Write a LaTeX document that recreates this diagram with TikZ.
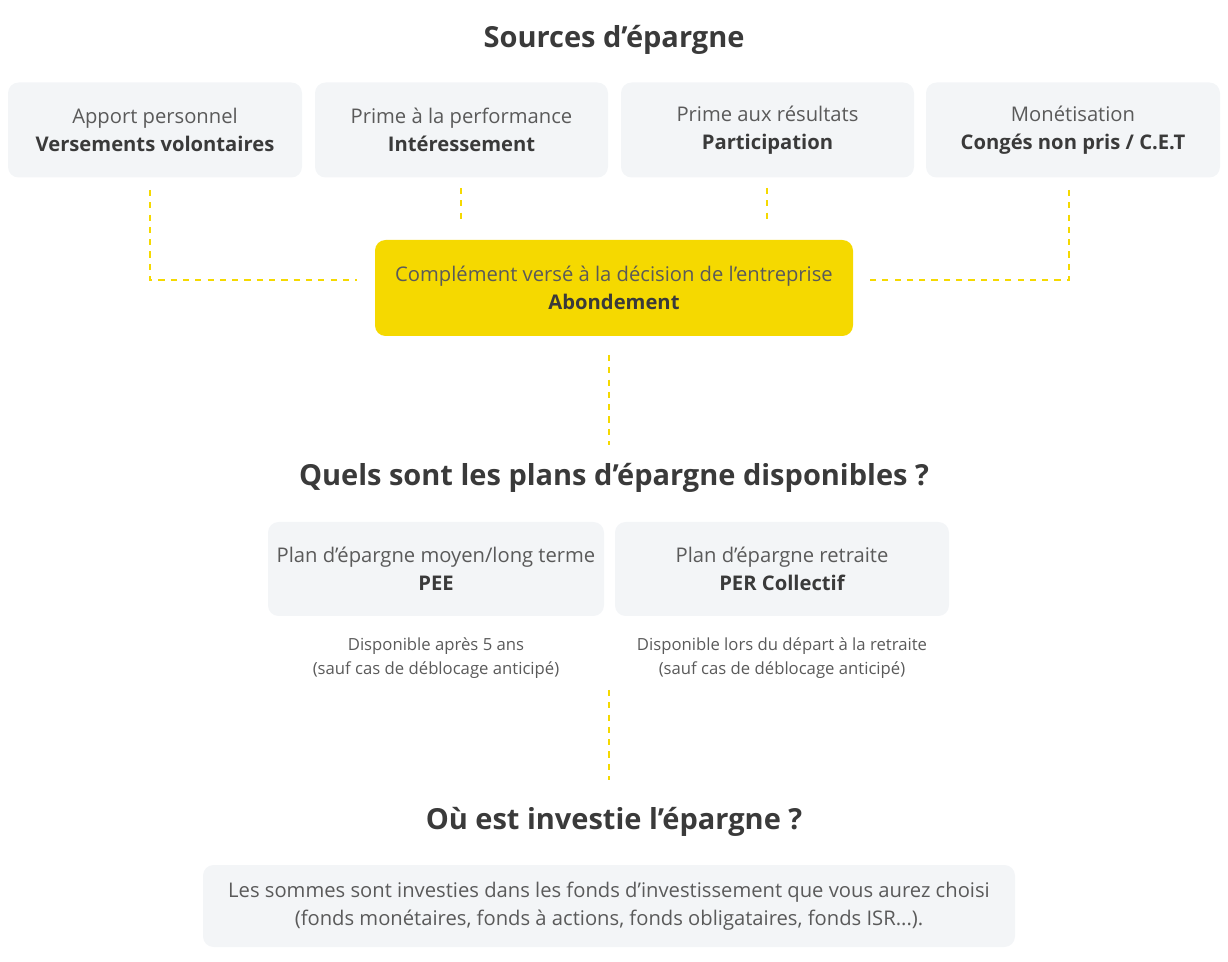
\documentclass[tikz,border=0pt]{standalone}
\usepackage{fontspec}
\setmainfont{Open Sans}
\definecolor{boxgrey}{HTML}{F3F5F7}
\definecolor{jaune}{HTML}{F5D900}
\definecolor{txt}{HTML}{5A5A5A}
\definecolor{titre}{HTML}{3A3A3A}
\tikzset{
  boite/.style={fill=boxgrey, rounded corners=6pt, align=center, text=txt, font=\fontsize{11.5}{16}\selectfont, inner sep=0pt},
  titres/.style={text=titre, font=\fontsize{16.5}{19}\selectfont\bfseries},
  note/.style={text=txt, align=center, font=\fontsize{9.5}{13.8}\selectfont},
  lien/.style={jaune, line width=1.1pt, dash pattern=on 3.5pt off 3.5pt}
}
\begin{document}
\begin{tikzpicture}[x=0.02cm,y=-0.02cm]
\useasboundingbox (0,0) rectangle (1228,962);

\node[titres] (sources) at (614,40) {Sources d’épargne};

\node[boite, minimum width=294*0.02cm, minimum height=95*0.02cm] (apport) at (155,130) {Apport personnel\\\textbf{\color{titre}Versements volontaires}};
\node[boite, minimum width=293*0.02cm, minimum height=95*0.02cm] (prime) at (461.5,130) {Prime à la performance\\\textbf{\color{titre}Intéressement}};
\node[boite, minimum width=293*0.02cm, minimum height=95*0.02cm] (resultats) at (767.5,130) {Prime aux résultats\\\textbf{\color{titre}Participation}};
\node[boite, minimum width=294*0.02cm, minimum height=95*0.02cm] (monet) at (1073,130) {Monétisation\\\textbf{\color{titre}Congés non pris / C.E.T}};

\node[boite, fill=jaune, minimum width=478*0.02cm, minimum height=96*0.02cm] (abond) at (614,288) {Complément versé à la décision de l’entreprise\\\textbf{\color{titre}Abondement}};

\coordinate (g1) at (150,190);
\coordinate (g2) at (150,280);
\coordinate (g3) at (357,280);
\coordinate (d1) at (1069,190);
\coordinate (d2) at (1069,280);
\coordinate (d3) at (868,280);
\draw[lien] (g1) -- (g2) -- (g3);
\draw[lien] (d1) -- (d2) -- (d3);
\draw[lien] (461,188) -- (461,222);
\draw[lien] (767,188) -- (767,222);
\draw[lien] (609,355) -- (609,445);

\node[titres] (plans) at (614,478) {Quels sont les plans d’épargne disponibles ?};

\node[boite, minimum width=336*0.02cm, minimum height=94*0.02cm] (pee) at (436,569) {Plan d’épargne moyen/long terme\\\textbf{\color{titre}PEE}};
\node[boite, minimum width=334*0.02cm, minimum height=94*0.02cm] (per) at (782,569) {Plan d’épargne retraite\\\textbf{\color{titre}PER Collectif}};

\node[note] (notepee) at (436,658) {Disponible après 5 ans\\(sauf cas de déblocage anticipé)};
\node[note] (noteper) at (782,658) {Disponible lors du départ à la retraite\\(sauf cas de déblocage anticipé)};

\draw[lien] (609,690) -- (609,780);

\node[titres] (invest) at (614,822) {Où est investie l’épargne ?};

\node[boite, minimum width=812*0.02cm, minimum height=82*0.02cm] (fonds) at (609,906) {Les sommes sont investies dans les fonds d’investissement que vous aurez choisi\\(fonds monétaires, fonds à actions, fonds obligataires, fonds ISR...).};
\end{tikzpicture}
\end{document}
